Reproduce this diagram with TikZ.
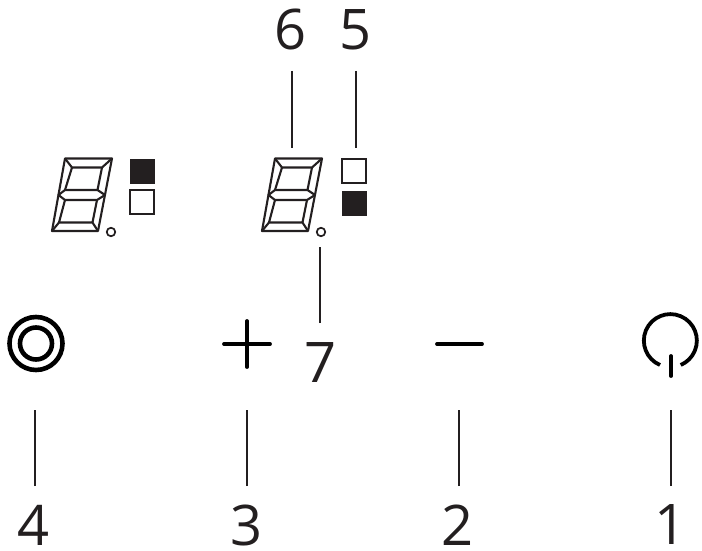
\documentclass[tikz,border=0pt]{standalone}
\usepackage{fontspec}
\setmainfont{Open Sans}
\definecolor{ink}{HTML}{231F20}
\tikzset{
 lab/.style={inner sep=0pt,font=\fontsize{56}{56}\selectfont,text=ink},
 leader/.style={draw=ink,line width=1.7pt},
 seg/.style={draw=ink,line width=2.1pt,line join=round},
 sym/.style={draw=black,line width=3.8pt,line cap=round},
 onbox/.style={draw=ink,fill=ink,line width=1.5pt,minimum size=23.5pt,inner sep=0pt},
 offbox/.style={draw=ink,fill=white,line width=2.3pt,minimum size=23.5pt,inner sep=0pt},
 dot/.style={circle,draw=ink,line width=1.7pt,minimum size=8.5pt,inner sep=0pt},
 ring/.style={circle,draw=black,line width=4.6pt,inner sep=0pt}
}
\newcommand{\sevenseg}[1]{%
 \begin{scope}[xshift=#1]
  \draw[seg] (65,158.5)--(112,158.5)--(98,231)--(52,231)--cycle;
  \draw[seg] (58.5,195)--(65,190)--(97.5,190)--(105,195)--(97,200)--(65,200)--cycle;
  \draw[seg] (65,158.5)--(72,167.5)--(102,167.5)--(112,158.5);
  \draw[seg] (72,167.5)--(65,190) (102,167.5)--(97.5,190);
  \draw[seg] (65,200)--(59,222.5)--(52,231) (97,200)--(92.5,222.5)--(98,231) (59,222.5)--(92.5,222.5);
 \end{scope}}
\begin{document}
\begin{tikzpicture}[x=1pt,y=-1pt]
\useasboundingbox (0,0) rectangle (702,551);
\sevenseg{0pt}
\sevenseg{210pt}
\node[onbox] (a1) at (142,171) {};
\node[offbox] (a2) at (142,202) {};
\node[offbox] (b1) at (354,171) {};
\node[onbox] (b2) at (354,203) {};
\node[dot] (adot) at (111,232) {};
\node[dot] (bdot) at (321,232) {};
\node[ring,minimum size=53pt] (ringo) at (36,343.5) {};
\node[ring,minimum size=32pt] (ringi) at (36,343.5) {};
\draw[sym] (224,344)--(270,344) (247,321)--(247,367);
\draw[sym] (437,344)--(482,344);
\draw[sym,line cap=butt] (660,365) arc[start angle=113,delta angle=314,radius=26.5];
\draw[sym] (671,356)--(671,376);
\node[lab] (n6) at (291,29.5) {6};
\node[lab] (n5) at (356,29.5) {5};
\node[lab] (n7) at (320.5,362.5) {7};
\node[lab] (n4) at (34,525) {4};
\node[lab] (n3) at (247,525) {3};
\node[lab] (n2) at (458,525) {2};
\node[lab] (n1) at (671,525) {1};
\coordinate (t6) at (292,71); \coordinate (e6) at (292,148);
\coordinate (t5) at (356,71); \coordinate (e5) at (356,148);
\coordinate (t7) at (320,323); \coordinate (e7) at (320,247);
\coordinate (t4) at (35,486); \coordinate (e4) at (35,410);
\coordinate (t3) at (247,486); \coordinate (e3) at (247,410);
\coordinate (t2) at (459,486); \coordinate (e2) at (459,410);
\coordinate (t1) at (671,486); \coordinate (e1) at (671,410);
\foreach \k in {1,...,7} \draw[leader] (t\k)--(e\k);
\end{tikzpicture}
\end{document}
